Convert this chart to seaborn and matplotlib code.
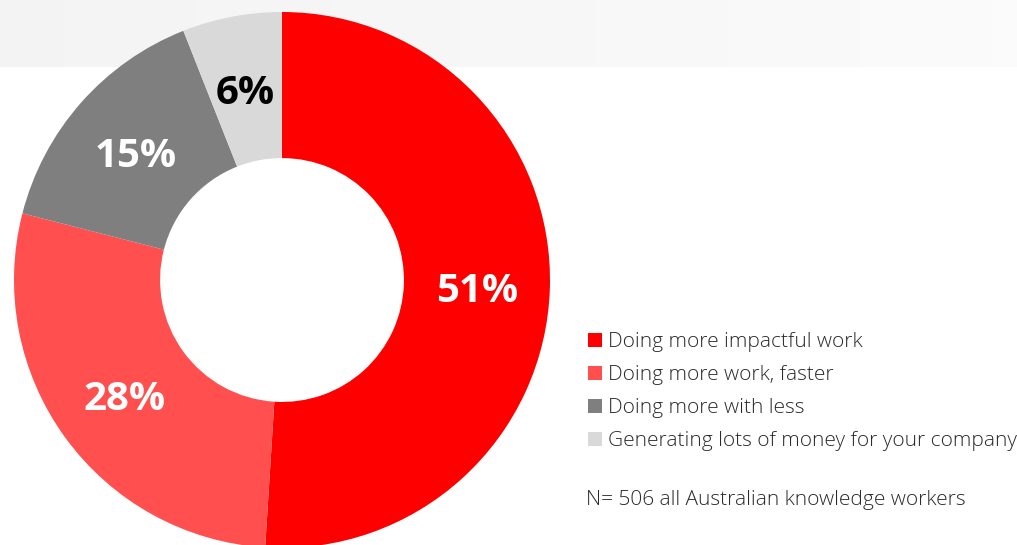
import numpy as np
import matplotlib
matplotlib.use("Agg")
import matplotlib.pyplot as plt
from matplotlib.patches import Patch
import seaborn as sns

categories = ["Doing more impactful work", "Doing more work, faster",
              "Doing more with less", "Generating lots of money for your company"]
values = [51, 28, 15, 6]
labels = ["51%", "28%", "15%", "6%"]
colors = ["#FF0000", "#FF4F4F", "#7F7F7F", "#D9D9D9"]
label_colors = ["white", "white", "white", "black"]
note = "N= 506 all Australian knowledge workers"

sns.set_theme(style="white")
plt.rcParams["font.family"] = ["Open Sans", "DejaVu Sans"]

W, H = 1017, 545
fig = plt.figure(figsize=(W / 100, H / 100), dpi=100)
ax = fig.add_axes([0, 0, 1, 1])
ax.set_xlim(0, W)
ax.set_ylim(0, H)
ax.axis("off")

# top light band with subtle gradient
grad = np.linspace(0.955, 0.985, 256).reshape(1, -1)
ax.imshow(np.dstack([grad, grad, grad]), extent=(0, W, H - 67, H),
          aspect="auto", zorder=0, interpolation="bilinear")

cx, cy, R = 282, H - 280, 268
wedges, texts = ax.pie(values, colors=colors, startangle=90, counterclock=False,
                       center=(cx, cy), radius=R, frame=True,
                       wedgeprops=dict(width=R * 0.545, edgecolor="none"))
ax.set_xlim(0, W)
ax.set_ylim(0, H)
ax.axis("off")
for w in wedges:
    w.set_zorder(2)

rl = R - R * 0.545 / 2
cum = 0
for v, lab, lc in zip(values, labels, label_colors):
    mid = (cum + v / 2) / sum(values) * 2 * np.pi
    cum += v
    x = cx + rl * np.sin(mid)
    y = cy + rl * np.cos(mid) - 5
    ax.text(x, y, lab, ha="center", va="center", color=lc, fontsize=29,
            fontweight="bold", zorder=3)

handles = [Patch(facecolor=c, edgecolor="none") for c in colors]
leg = ax.legend(handles, categories, loc="upper left",
                bbox_to_anchor=(588 / W, 1 - 332 / H), frameon=False,
                fontsize=15, handlelength=0.68, handleheight=0.68,
                handletextpad=0.3, labelspacing=0.63, borderpad=0,
                borderaxespad=0)
for t in leg.get_texts():
    t.set_color("#2a2a2a")
    t.set_fontweight("light")

ax.text(586, H - 500, note, ha="left", va="center", fontsize=15,
        color="#2a2a2a", fontweight="light")

fig.savefig("out.png", dpi=100)
